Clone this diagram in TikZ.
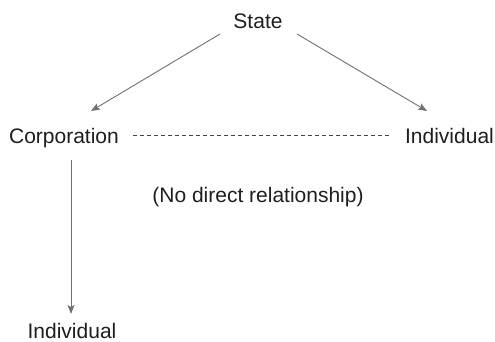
\documentclass[tikz,border=0pt]{standalone}
\usepackage{fontspec}
\setmainfont{Liberation Sans}
\usetikzlibrary{arrows.meta}
\definecolor{linegray}{RGB}{112,112,112}
\definecolor{dashgray}{RGB}{70,70,70}
\definecolor{textgray}{RGB}{30,30,30}
\begin{document}
\begin{tikzpicture}[x=1pt,y=-1pt,
  lbl/.style={anchor=base,inner sep=0pt,text=textgray,font=\fontsize{21}{24}\selectfont},
  conn/.style={draw=linegray,line width=0.9pt,-{Stealth[length=9pt,width=7pt,inset=2pt]}},
  norel/.style={draw=dashgray,line width=0.7pt,dash pattern=on 4pt off 3pt}]
\useasboundingbox (0,0) rectangle (495,342);
\node[lbl] (state) at (258,28.5) {State};
\node[lbl] (corp) at (64,143) {Corporation};
\node[lbl] (ind) at (449.5,143) {Individual};
\node[lbl] (note) at (258,202) {(No direct relationship)};
\node[lbl] (ind2) at (72,338) {Individual};
\draw[conn] ([shift={(-38,5.5)}]state.base) -- ([shift={(27,-32)}]corp.base);
\draw[conn] ([shift={(39,5.5)}]state.base) -- ([shift={(-22.5,-32)}]ind.base);
\draw[conn] ([shift={(7,17)}]corp.base) -- ([shift={(-1,-24)}]ind2.base);
\draw[norel] ([shift={(14,-7.5)}]corp.base east) -- ([shift={(-16,-7.5)}]ind.base west);
\end{tikzpicture}
\end{document}
